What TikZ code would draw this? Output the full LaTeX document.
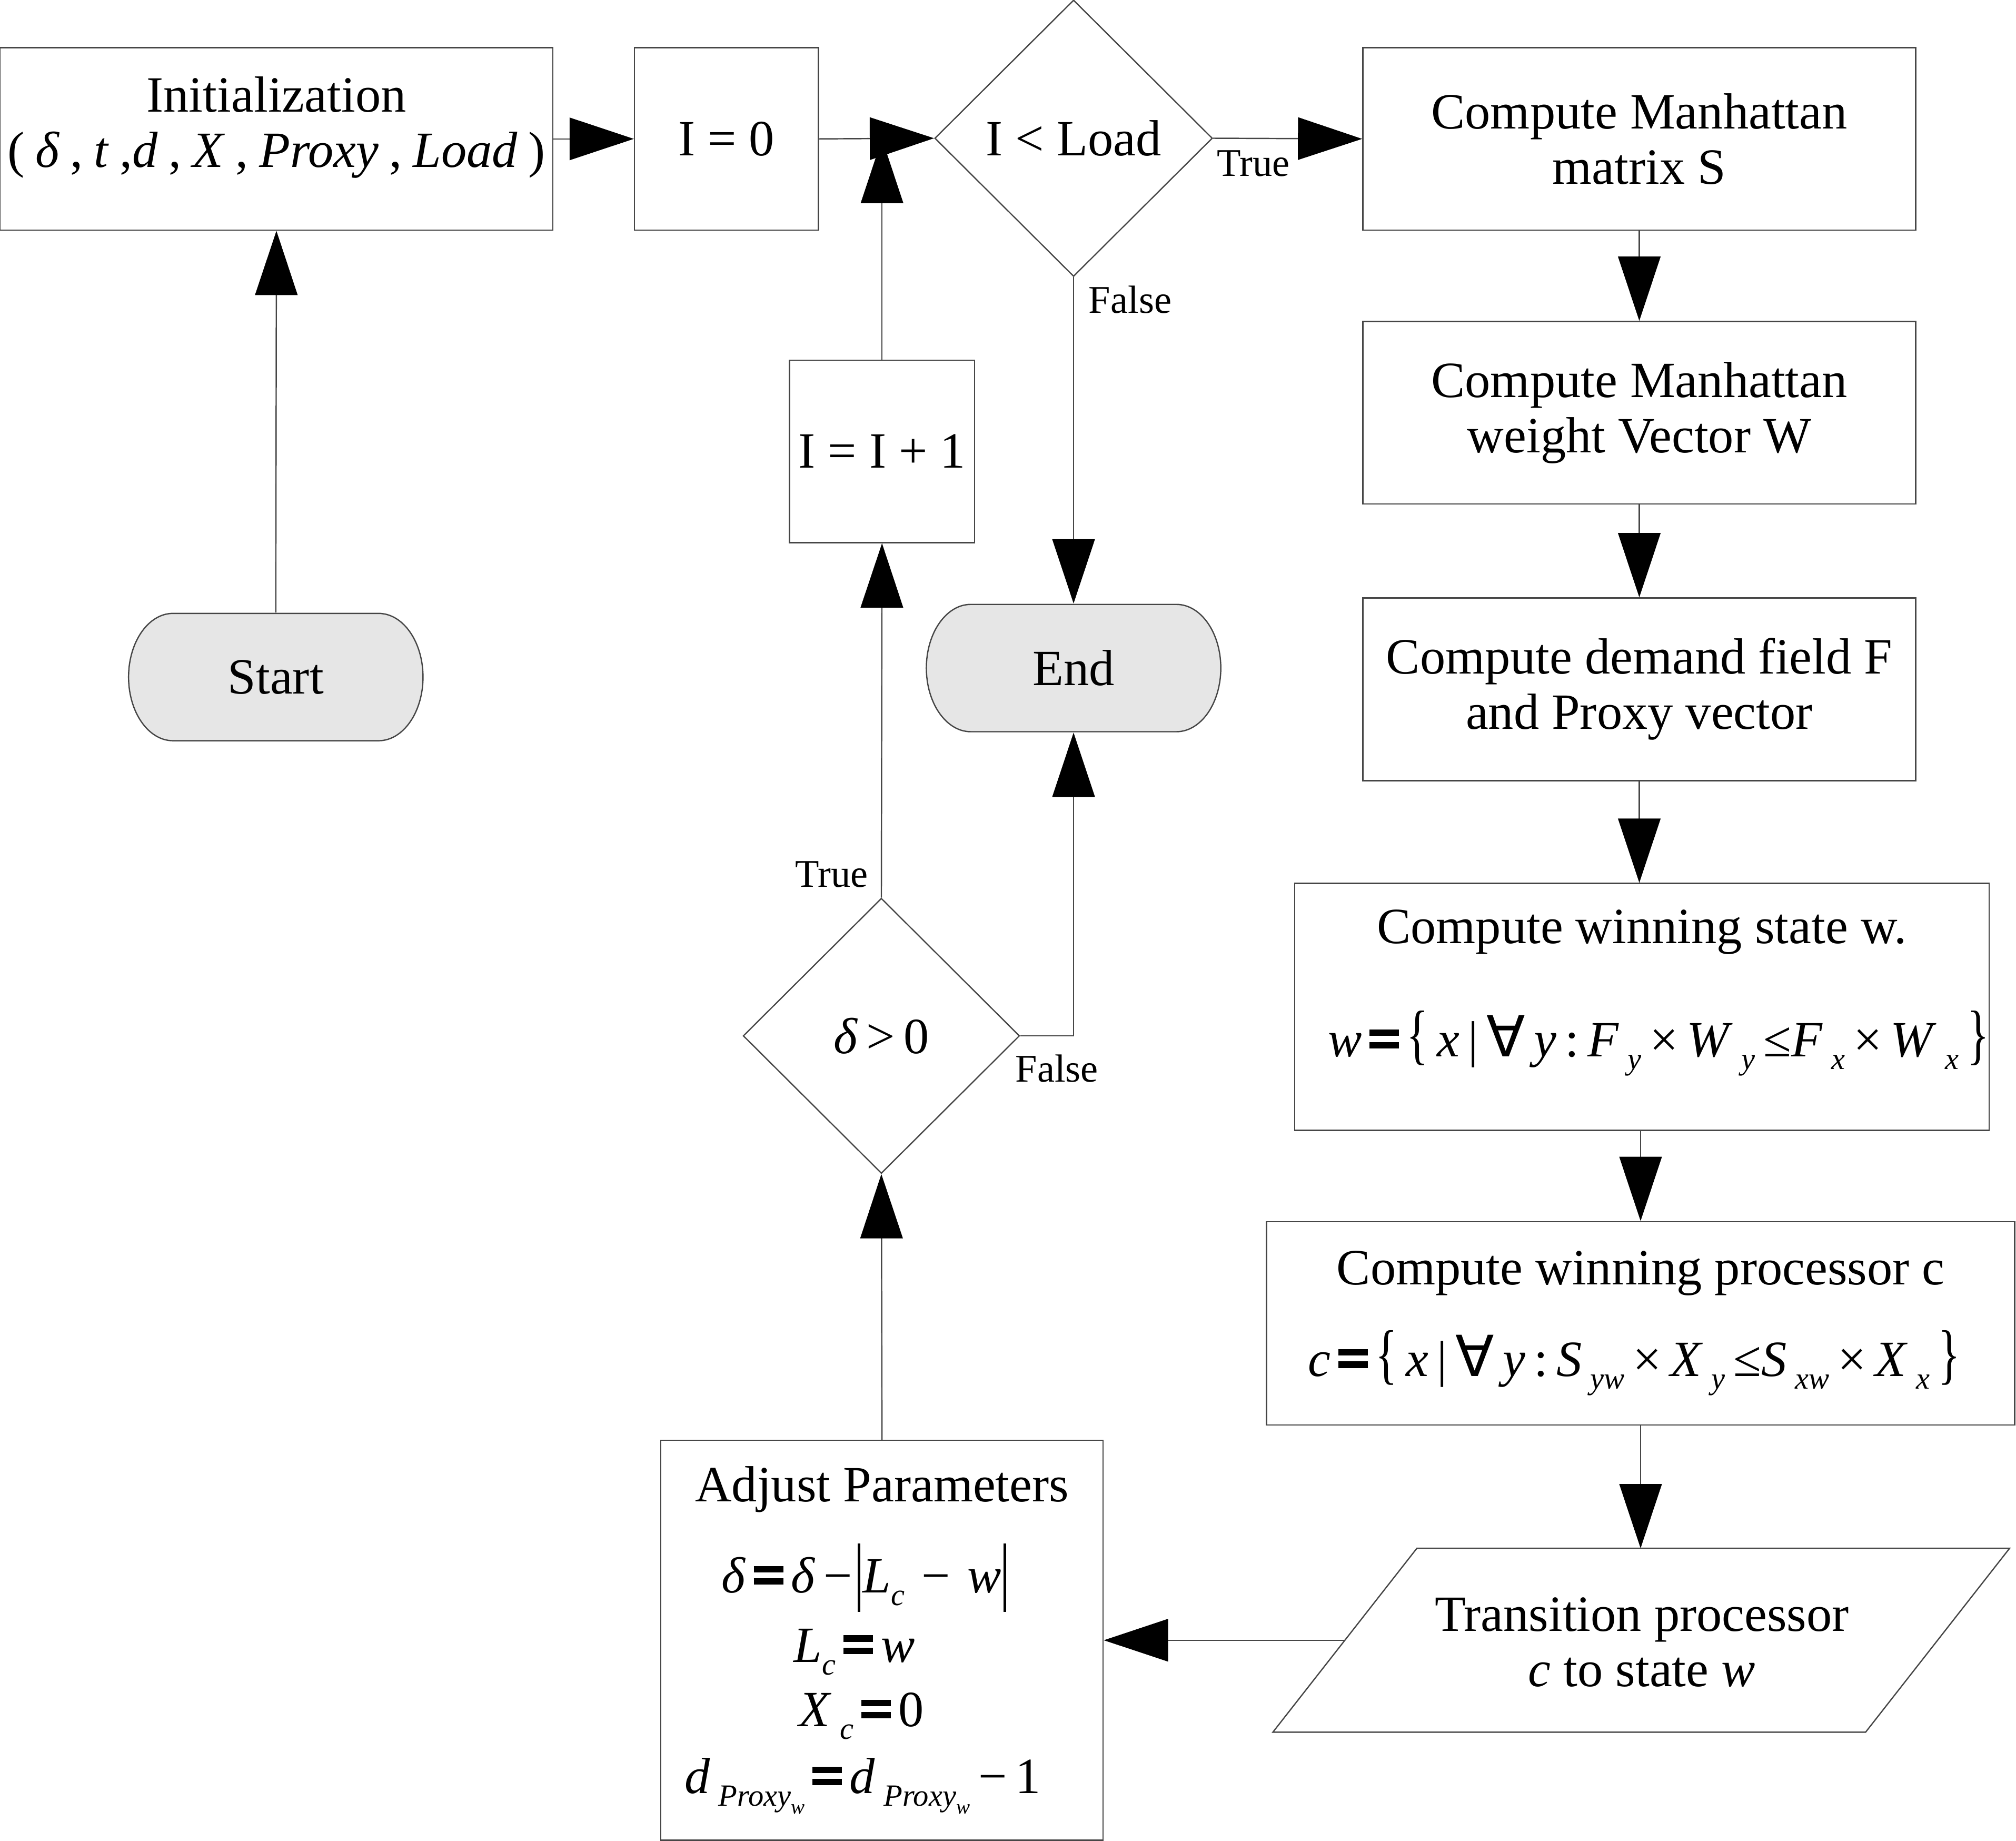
\documentclass[tikz,border=0pt]{standalone}
\usepackage{fontspec}
\setmainfont{Liberation Serif}
\newfontfamily\symfam{DejaVu Sans}
\usepackage{amsmath}
\usepackage{graphicx}
\usetikzlibrary{arrows.meta,shapes.geometric}
\definecolor{termgray}{RGB}{230,230,230}
\definecolor{edgegray}{RGB}{70,70,70}
\newcommand\mysub[1]{\raisebox{-0.25em}{\fontsize{24}{24}\selectfont\textit{#1}}}
\newcommand\mysubb[2]{\raisebox{-0.25em}{\fontsize{24}{24}\selectfont\textit{#1}\raisebox{-0.25em}{\fontsize{16}{16}\selectfont\textit{#2}}}}
\newcommand\beq{\mbox{\kern6pt\rule[6.3pt]{23pt}{5pt}\kern-23pt\rule[16pt]{23pt}{5pt}\kern6pt}}
\newcommand\absbar{\mbox{\kern2pt\rule[-14.6pt]{2pt}{53pt}\kern2pt}}
\newcommand\fa{{\symfam\fontsize{44}{44}\selectfont ∀}}
\newcommand\lbr{\scalebox{0.9}[1.3]{\{}}
\newcommand\rbr{\scalebox{0.9}[1.3]{\}}}
\newcommand\gp{\kern8.4pt}
\newcommand\bigfontcmd{\fontsize{39.5}{43}\selectfont}
\begin{document}
\lineskiplimit=-100pt
\begin{tikzpicture}[x=1pt,y=-1pt,
  bigfont/.style={font=\bigfontcmd},
  line/.style={draw=edgegray, line width=1pt},
  arr/.style={line, -{Triangle[length=50pt,width=33pt,color=black]}},
  procbox/.style={line, rectangle, inner sep=0pt, align=center, bigfont},
  decbox/.style={line, diamond, inner sep=0pt, bigfont},
  termbox/.style={rectangle, inner sep=0pt, bigfont, minimum width=230pt, minimum height=100pt,
    path picture={
      \draw[line, fill=termgray]
        ([xshift=35pt,yshift=-0.5pt]path picture bounding box.north west)
        -- ([xshift=-35pt,yshift=-0.5pt]path picture bounding box.north east)
        arc[start angle=90, end angle=-90, x radius=34.5pt, y radius=49.5pt]
        -- ([xshift=35pt,yshift=0.5pt]path picture bounding box.south west)
        arc[start angle=270, end angle=90, x radius=34.5pt, y radius=49.5pt] -- cycle;}},
  txt/.style={inner sep=0pt, align=center, bigfont},
  lbl/.style={inner sep=0pt, font=\fontsize{30.5}{32}\selectfont},
]
\useasboundingbox (0,0) rectangle (1568,1431.6);

% initialization
\node[procbox, minimum width=430pt, minimum height=142pt] (init) at (215,108) {};
\node[txt] (initT) at (215,99) {Initialization\\(\gp\textit{δ}\gp,\gp\textit{t}\gp,\textit{d}\gp,\gp\textit{X}\gp,\gp\textit{Proxy}\gp,\gp\textit{Load}\gp)};

\node[procbox, minimum width=143pt, minimum height=142pt] (i0) at (565,108) {I = 0};
\node[decbox, minimum width=216pt, minimum height=215pt] (dec1) at (835,107.5) {I < Load};

\node[procbox, minimum width=430pt, minimum height=142pt] (b1) at (1275,108) {Compute Manhattan\\matrix S};
\node[procbox, minimum width=430pt, minimum height=142pt] (b2) at (1275,321) {Compute Manhattan\\weight Vector W};
\node[procbox, minimum width=430pt, minimum height=142pt] (b3) at (1275,536) {Compute demand field F\\and Proxy vector};
\node[procbox, minimum width=540pt, minimum height=192pt] (b4) at (1277,783) {};
\node[txt] (b4T) at (1277,772) {Compute winning state w.\\[45pt]\hspace*{26pt}\textit{w}\beq\lbr\,\textit{x}\,|\,\fa\,\textit{y}\,:\,\textit{F}\,\mysub{y}\,×\,\textit{W}\,\mysub{y}\,≤\textit{F}\,\mysub{x}\,×\,\textit{W}\,\mysub{x}\,\rbr};
\node[procbox, minimum width=582pt, minimum height=158pt] (b5) at (1276,1029) {Compute winning processor c\\[28pt]\textit{c}\beq\lbr\,\textit{x}\,|\,\fa\,\textit{y}\,:\,\textit{S}\,\mysub{yw}\,×\,\textit{X}\,\mysub{y}\,≤\textit{S}\,\mysub{xw}\,×\,\textit{X}\,\mysub{x}\,\rbr\hspace*{10pt}};

% transition parallelogram
\draw[line] (990,1347) -- (1102,1204) -- (1563,1204) -- (1451,1347) -- cycle;
\node[txt] (para) at (1277,1277) {Transition processor\\\textit{c} to state \textit{w}};
\coordinate (paraT) at (1276,1204);
\coordinate (paraW) at (1046,1275.5);

% adjust parameters
\node[procbox, minimum width=344pt, minimum height=311pt] (adj) at (686,1275.5) {Adjust Parameters\\[28pt]\hspace*{-26pt}\textit{δ}\beq\textit{δ}\,−\kern2pt\absbar\textit{L}\mysub{c}\,\,−\,\,\textit{w}\absbar\\[11pt]\hspace*{-43pt}\textit{L}\mysub{c}\beq\textit{w}\\[7pt]\hspace*{-32pt}\textit{X}\,\mysub{c}\beq0\\[9pt]\textit{d}\,\mysubb{Proxy}{w}\beq\textit{d}\,\mysubb{Proxy}{w}\,−\,1\hspace*{30pt}};

\node[decbox, minimum width=215pt, minimum height=214pt] (dec2) at (685.5,805.5) {\textit{δ}\,>\,0};
\node[procbox, minimum width=144pt, minimum height=142pt] (inc) at (686,351) {I = I + 1};

% terminals
\node[termbox] (start) at (214.5,526.5) {Start};
\node[termbox] (end) at (835,519.5) {End};

\coordinate (loopJ) at (686,108);

% connectors
\draw[arr] (start.north) -- (init.south);
\draw[arr] (init.east) -- (i0.west);
\draw[arr] (i0.east) -- (dec1.west);
\draw[arr] (dec1.east) -- (b1.west);
\draw[arr] (dec1.south) -- (end.north);
\draw[arr] (b1.south) -- (b2.north);
\draw[arr] (b2.south) -- (b3.north);
\draw[arr] (b3.south) -- (b3.south |- b4.north);
\draw[arr] (b4.south -| b5.north) -- (b5.north);
\draw[arr] (b5.south) -- (paraT);
\draw[arr] (paraW) -- (adj.east);
\draw[arr] (adj.north) -- (dec2.south);
\draw[arr] (dec2.north) -- (inc.south);
\draw[arr] (inc.north) -- (loopJ);
\draw[arr] (dec2.east) -- (end.south |- dec2.east) -- (end.south);

% labels
\node[lbl] (t1) at (975,127) {True};
\node[lbl] (f1) at (879,233) {False};
\node[lbl] (t2) at (647,680) {True};
\node[lbl] (f2) at (822,831) {False};
\end{tikzpicture}
\end{document}
